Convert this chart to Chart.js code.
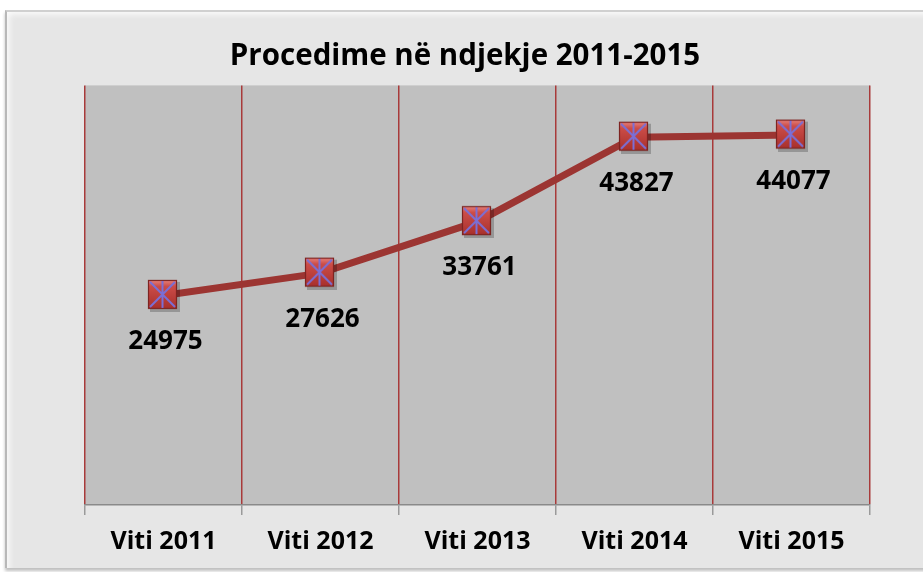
<!DOCTYPE html>
<html>
<head>
<meta charset="utf-8">
<script src="https://cdn.jsdelivr.net/npm/chart.js@4.4.1/dist/chart.umd.min.js"></script>
<style>
  html, body { margin: 0; padding: 0; background: #ffffff; }
  #wrap { position: relative; width: 923px; height: 572px; overflow: hidden; }
  #frame { position: absolute; left: 5px; top: 10px; width: 930px; height: 556px;
           background: #e6e6e6; border-left: 2px solid #b8b8b8; border-top: 2px solid #d0d0d0;
           box-shadow: inset 6px 6px 6px -4px rgba(255,255,255,0.9), 0 3px 3px rgba(0,0,0,0.25); }
  canvas { position: absolute; left: 0; top: 0; }
</style>
</head>
<body>
<div id="wrap">
  <div id="frame"></div>
  <canvas id="c" width="923" height="572"></canvas>
</div>
<script>
const chartTitle = 'Procedime në ndjekje 2011-2015';
const categories = ['Viti 2011', 'Viti 2012', 'Viti 2013', 'Viti 2014', 'Viti 2015'];
const values = [24975, 27626, 33761, 43827, 44077];
const yMin = 0;
const yMax = 50000;

const FONT = '"Open Sans", Lato, sans-serif';

function makeMarker() {
  const s = 33, c = document.createElement('canvas');
  c.width = s; c.height = s;
  const g = c.getContext('2d');
  g.fillStyle = 'rgba(0,0,0,0.22)';
  g.fillRect(3, 3, 30, 30);
  const grad = g.createLinearGradient(0, 1, 0, 30);
  grad.addColorStop(0, '#e8847f');
  grad.addColorStop(0.22, '#cc4d48');
  grad.addColorStop(1, '#a8302c');
  g.fillStyle = grad;
  g.fillRect(1, 1, 29, 29);
  g.strokeStyle = '#7d2421';
  g.lineWidth = 1.2;
  g.strokeRect(1.5, 1.5, 28, 28);
  g.strokeStyle = '#7a6fd6';
  g.lineWidth = 2;
  g.beginPath();
  g.moveTo(3, 3); g.lineTo(28, 28);
  g.moveTo(28, 3); g.lineTo(3, 28);
  g.moveTo(15.5, 2); g.lineTo(15.5, 29);
  g.stroke();
  return c;
}
const marker = makeMarker();

const plotBg = {
  id: 'plotBg',
  beforeDraw(chart) {
    const a = chart.chartArea, ctx = chart.ctx;
    ctx.save();
    ctx.fillStyle = '#c0c0c0';
    ctx.fillRect(a.left, a.top, a.right - a.left, a.bottom - a.top);
    ctx.restore();
  }
};

const valueLabels = {
  id: 'valueLabels',
  afterDatasetsDraw(chart) {
    const ctx = chart.ctx;
    const meta = chart.getDatasetMeta(0);
    ctx.save();
    ctx.font = 'bold 26px ' + FONT;
    ctx.fillStyle = '#000000';
    ctx.textAlign = 'center';
    ctx.textBaseline = 'middle';
    meta.data.forEach((pt, i) => {
      ctx.fillText(String(values[i]), pt.x + 2, pt.y + 46);
    });
    ctx.restore();
  }
};

new Chart(document.getElementById('c'), {
  type: 'line',
  data: {
    labels: categories,
    datasets: [{
      data: values,
      borderColor: '#9c3532',
      borderWidth: 7,
      pointStyle: marker,
      pointRadius: 15,
      pointHoverRadius: 15,
      tension: 0,
      fill: false
    }]
  },
  options: {
    responsive: false,
    animation: false,
    events: [],
    layout: { padding: { left: 60, right: 53, top: 0, bottom: 3 } },
    plugins: {
      legend: { display: false },
      tooltip: { enabled: false },
      title: {
        display: true,
        text: chartTitle,
        color: '#000000',
        font: { family: FONT, size: 29.5, weight: 'bold' },
        padding: { top: 39, bottom: 11 }
      }
    },
    scales: {
      x: {
        offset: true,
        grid: {
          offset: true,
          display: true,
          drawOnChartArea: true,
          drawTicks: true,
          tickLength: 10,
          color: '#a83a3a',
          lineWidth: 1.5,
          tickColor: '#9a9a9a'
        },
        border: { display: true, color: '#8a8a8a', width: 1.5 },
        ticks: {
          color: '#000000',
          font: { family: FONT, size: 25, weight: 'bold' },
          padding: 12,
          maxRotation: 0
        }
      },
      y: {
        min: yMin,
        max: yMax,
        afterFit(scale) { scale.width = 25; },
        grid: { display: false },
        border: { display: false },
        ticks: { display: false }
      }
    }
  },
  plugins: [plotBg, valueLabels]
});
</script>
</body>
</html>
